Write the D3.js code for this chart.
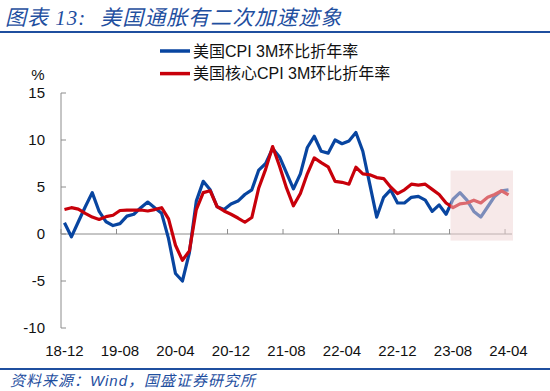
<!DOCTYPE html>
<html>
<head>
<meta charset="utf-8">
<script src="https://cdn.jsdelivr.net/npm/d3@7"></script>
<style>
  body { margin: 0; background: #fff; }
  svg text { font-family: "Liberation Sans", "Noto Sans CJK SC", sans-serif; }
</style>
</head>
<body>
<div id="chart"></div>
<script>
// monthly series, 18-12 .. 24-04
const cpi3m = [1.2, -0.3, 1.3, 2.9, 4.4, 2.4, 1.3, 0.9, 1.1, 1.9,
  2.1, 2.8, 3.4, 2.8, 2.2, -0.5, -4.2, -5.0, -2.0, 3.5,
  5.6, 4.7, 2.9, 2.6, 3.2, 3.5, 4.2, 4.7, 6.8, 7.5,
  9.1, 8.2, 6.5, 4.8, 6.4, 9.2, 10.4, 8.8, 8.6, 10.0,
  9.6, 9.9, 10.8, 8.8, 5.3, 1.8, 3.9, 4.7, 3.3, 3.3,
  3.9, 4.0, 3.6, 2.4, 3.1, 2.1, 3.7, 4.4, 3.6, 2.4,
  1.8, 2.9, 4.0, 4.6, 4.7];
const core3m = [2.6, 2.8, 2.65, 2.2, 1.8, 1.55, 1.85, 2.0, 2.5, 2.55,
  2.55, 2.55, 2.45, 2.6, 2.8, 1.6, -1.2, -2.8, -1.8, 2.6,
  4.4, 4.6, 2.9, 2.45, 2.1, 1.7, 1.25, 1.75, 4.9, 6.9,
  9.3, 7.2, 4.9, 3.0, 4.3, 6.4, 8.1, 7.6, 7.15, 5.6,
  5.5, 5.3, 7.1, 6.4, 6.3, 6.0, 5.9, 5.0, 4.3, 4.7,
  5.3, 5.2, 5.3, 4.75, 4.2, 3.3, 2.8, 3.2, 3.3, 3.6,
  3.3, 3.9, 4.2, 4.6, 4.15];

const fmt = d3.timeFormat("%y-%m");
const months = d3.timeMonth.range(new Date(2018, 11, 1), new Date(2024, 4, 1)).map(fmt);
const tickLabels = ["18-12", "19-08", "20-04", "20-12", "21-08", "22-04", "22-12", "23-08", "24-04"];
const yTicks = [-10, -5, 0, 5, 10, 15];
const seriesNames = ["美国CPI 3M环比折年率", "美国核心CPI 3M环比折年率"];
const highlightFrom = "23-08";
const highlightRange = [-0.7, 6.75];

const width = 550, height = 391;
const blue = "#0845a0", red = "#c8000a", axisColor = "#8c8c8c", titleBlue = "#1f4f9f";

const svg = d3.select("#chart").append("svg")
  .attr("width", width)
  .attr("height", height);

// header
svg.append("text")
  .attr("x", 5)
  .attr("y", 25)
  .attr("fill", titleBlue)
  .style("font-size", "21px")
  .style("font-style", "italic")
  .style("letter-spacing", "1px")
  .call(t => {
    t.append("tspan").text("图表");
    t.append("tspan").style("font-family", "'Liberation Serif', serif").text(" 13:");
    t.append("tspan").attr("dx", 14).text("美国通胀有二次加速迹象");
  });

svg.append("line")
  .attr("x1", 0).attr("x2", width)
  .attr("y1", 32).attr("y2", 32)
  .attr("stroke", titleBlue)
  .attr("stroke-width", 2);

svg.append("line")
  .attr("x1", 0).attr("x2", width)
  .attr("y1", 369).attr("y2", 369)
  .attr("stroke", titleBlue)
  .attr("stroke-width", 2);

svg.append("text")
  .attr("x", 10)
  .attr("y", 386)
  .attr("fill", titleBlue)
  .style("font-size", "15px")
  .style("font-style", "italic")
  .style("letter-spacing", "1px")
  .text("资料来源：Wind，国盛证券研究所");

// scales
const x = d3.scaleBand().domain(months).range([61, 512]);
const y = d3.scaleLinear().domain([-10, 15]).range([328, 93]);
const cx = m => x(m) + x.bandwidth() / 2;

// y axis
svg.append("line")
  .attr("x1", 61).attr("x2", 61)
  .attr("y1", y(15)).attr("y2", y(-10))
  .attr("stroke", axisColor);

svg.append("g")
  .selectAll("line")
  .data(yTicks)
  .join("line")
    .attr("x1", 61).attr("x2", 66)
    .attr("y1", d => y(d)).attr("y2", d => y(d))
    .attr("stroke", axisColor);

svg.append("g")
  .selectAll("text")
  .data(yTicks)
  .join("text")
    .attr("x", 45)
    .attr("y", d => y(d))
    .attr("dy", "0.36em")
    .attr("text-anchor", "end")
    .style("font-size", "15px")
    .attr("fill", "#111")
    .text(d => d);

svg.append("text")
  .attr("x", 38).attr("y", 80)
  .attr("text-anchor", "middle")
  .style("font-size", "15px")
  .attr("fill", "#111")
  .text("%");

// x axis at zero
svg.append("line")
  .attr("x1", 61).attr("x2", 512)
  .attr("y1", y(0)).attr("y2", y(0))
  .attr("stroke", axisColor);

svg.append("g")
  .selectAll("line")
  .data(tickLabels)
  .join("line")
    .attr("x1", d => x(d)).attr("x2", d => x(d))
    .attr("y1", y(0) - 5).attr("y2", y(0))
    .attr("stroke", axisColor);

svg.append("g")
  .selectAll("text")
  .data(tickLabels)
  .join("text")
    .attr("x", d => cx(d))
    .attr("y", 356)
    .attr("text-anchor", "middle")
    .style("font-size", "15px")
    .attr("fill", "#111")
    .text(d => d);

// lines
const line = d3.line()
  .x((d, i) => cx(months[i]))
  .y(d => y(d));

svg.append("path")
  .datum(cpi3m)
  .attr("d", line)
  .attr("fill", "none")
  .attr("stroke", blue)
  .attr("stroke-width", 3.2)
  .attr("stroke-linejoin", "round");

svg.append("path")
  .datum(core3m)
  .attr("d", line)
  .attr("fill", "none")
  .attr("stroke", red)
  .attr("stroke-width", 3.2)
  .attr("stroke-linejoin", "round");

// highlight box over the recent months
svg.append("rect")
  .attr("x", x(highlightFrom) + 1)
  .attr("y", y(highlightRange[1]))
  .attr("width", 513 - x(highlightFrom) - 1)
  .attr("height", y(highlightRange[0]) - y(highlightRange[1]))
  .attr("fill", "#efd4d4")
  .attr("fill-opacity", 0.5);

// legend
const legend = svg.append("g")
  .selectAll("g")
  .data(seriesNames)
  .join("g")
    .attr("transform", (d, i) => `translate(160,${51 + i * 22.6})`);

legend.append("line")
  .attr("x1", 0).attr("x2", 30)
  .attr("stroke", (d, i) => i ? red : blue)
  .attr("stroke-width", 3.5);

legend.append("text")
  .attr("x", 33)
  .attr("dy", "0.36em")
  .style("font-size", "16px")
  .attr("fill", "#111")
  .text(d => d);
</script>
</body>
</html>
